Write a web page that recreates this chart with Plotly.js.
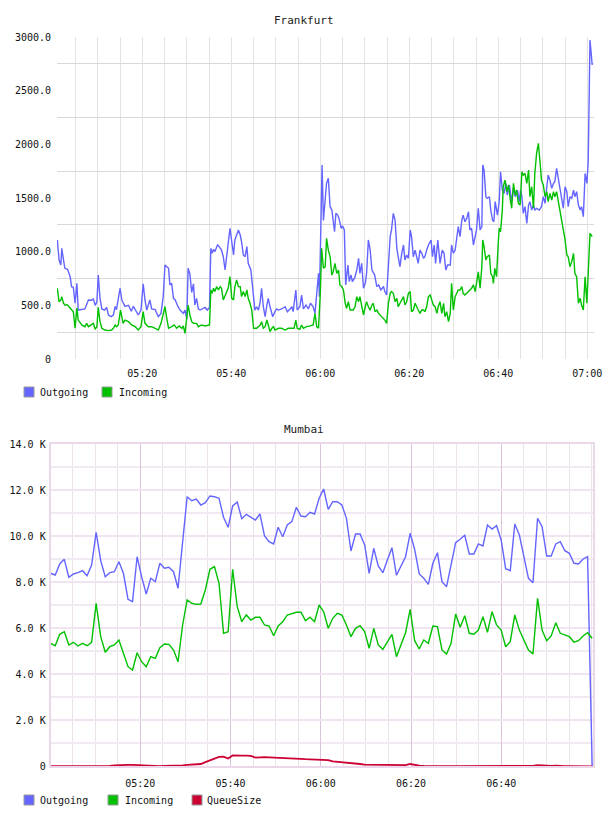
<!DOCTYPE html>
<html>
<head>
<meta charset="utf-8">
<script src="https://cdn.plot.ly/plotly-3.0.1.min.js"></script>
<style>
  html, body { margin: 0; padding: 0; background: #ffffff; }
  #chart { width: 608px; height: 816px; }
</style>
</head>
<body>
<div id="chart"></div>
<script>
// ---- Frankfurt: [minutes after 05:00, value] ----
const fraOutgoing = [
  [0.9,1109],[1.3,922],[1.7,876],[1.9,1031],[2.3,922],[2.6,845],[3.2,836],[3.8,767],[4.1,674],[4.5,668],
  [4.9,519],[5.3,705],[5.6,456],[6.4,460],[7.1,466],[7.9,550],[8.6,547],[9.0,560],[9.4,500],[9.8,530],
  [10.1,782],[10.5,565],[10.9,466],[11.5,456],[12.0,480],[12.4,410],[13.0,394],[13.5,410],[13.9,490],[14.2,460],
  [15.0,659],[15.4,550],[16.1,490],[16.9,500],[17.5,445],[18.0,490],[18.5,456],[19.1,410],[19.7,456],[20.2,700],
  [20.6,550],[21.0,456],[21.7,550],[22.1,466],[22.9,460],[23.6,394],[24.2,425],[24.7,580],[25.1,876],[25.5,860],
  [25.9,845],[26.2,690],[26.6,705],[27.0,565],[27.4,550],[28.0,490],[28.5,456],[29.2,425],[29.6,456],[30.0,370],
  [30.3,845],[30.7,790],[31.1,620],[31.5,700],[31.8,503],[32.2,565],[32.6,466],[33.0,456],[33.6,466],[34.1,480],
  [34.6,456],[35.1,480],[35.4,1031],[35.7,985],[36.0,1022],[36.3,1000],[36.9,1062],[37.3,1047],[37.8,1015],[38.2,953],
  [38.6,829],[39.0,985],[39.3,1047],[39.7,1218],[40.1,1093],[40.5,969],[40.8,1109],[41.2,1155],[41.6,1202],[42.0,1155],
  [42.3,1093],[42.7,969],[43.1,953],[43.5,1047],[43.8,891],[44.4,829],[45.0,550],[45.3,456],[45.7,487],[46.1,456],
  [46.5,534],[46.8,659],[47.2,487],[47.6,394],[48.0,503],[48.3,565],[48.7,487],[49.3,394],[49.8,441],[50.2,466],
  [50.6,456],[51.3,466],[52.1,487],[52.6,441],[53.2,466],[53.6,487],[53.9,441],[54.5,643],[54.8,456],[55.4,487],
  [55.8,596],[56.2,466],[56.8,503],[57.3,466],[57.8,519],[58.4,487],[58.8,425],[59.2,643],[59.6,798],[59.8,580],
  [60.4,1807],[60.7,1290],[61.1,1512],[61.4,1637],[61.8,1684],[62.2,1419],[62.6,1388],[62.9,1279],[63.2,1186],[63.5,1357],
  [63.9,1341],[64.2,1310],[64.7,1217],[65.0,1240],[65.4,1202],[65.7,690],[66.2,876],[66.5,722],[66.9,784],[67.2,722],
  [67.7,753],[68.2,829],[68.6,938],[68.9,798],[69.3,891],[69.7,659],[70.1,706],[70.4,798],[70.8,1109],[71.2,1015],
  [71.6,829],[72.2,784],[72.7,675],[73.1,690],[73.6,644],[74.2,675],[74.5,628],[74.9,596],[75.3,922],[75.7,1140],
  [76.0,1202],[76.4,1357],[76.8,1295],[77.2,1031],[77.5,953],[77.9,860],[78.3,985],[78.7,1062],[79.0,922],[79.4,969],
  [79.8,938],[80.2,1202],[80.5,1140],[80.9,953],[81.3,1015],[81.7,938],[82.0,891],[82.4,1015],[82.8,985],[83.2,938],
  [83.5,953],[83.9,1015],[84.3,1062],[84.9,1109],[85.2,953],[85.6,1062],[85.9,891],[86.4,1109],[86.9,891],[87.4,1015],
  [87.8,985],[88.2,829],[88.6,876],[89.2,876],[89.5,1062],[89.9,985],[90.3,1015],[90.7,1140],[91.0,1233],[91.4,1140],
  [91.8,1295],[92.1,1341],[92.5,1279],[92.9,1310],[93.3,1372],[93.6,1202],[94.0,1217],[94.4,1062],[94.8,1140],[95.1,1202],
  [95.5,1404],[95.9,1202],[96.3,1233],[96.5,1807],[96.8,1760],[97.2,1512],[97.5,1497],[98.0,1512],[98.3,1388],[98.7,1295],
  [99.0,1279],[99.3,1466],[99.8,1341],[100.2,1466],[100.5,1745],[100.9,1574],[101.3,1543],[101.7,1636],[102.0,1528],[102.5,1621],
  [103.0,1466],[103.4,1590],[103.8,1512],[104.3,1574],[104.7,1466],[105.0,1574],[105.3,1512],[105.6,1357],[106.0,1419],[106.4,1264],
  [106.8,1435],[107.1,1466],[107.5,1388],[107.9,1435],[108.2,1388],[108.6,1404],[109.2,1388],[109.7,1419],[110.1,1512],[110.5,1450],
  [110.9,1605],[111.2,1714],[111.6,1667],[112.0,1590],[112.4,1636],[112.7,1652],[113.1,1776],[113.5,1683],[113.9,1574],[114.2,1512],
  [114.6,1404],[115.0,1605],[115.4,1559],[115.7,1419],[116.1,1512],[116.5,1497],[116.9,1574],[117.2,1512],[117.6,1559],[118.0,1435],
  [118.4,1388],[118.7,1419],[119.1,1326],[119.5,1729],[119.9,1636],[120.2,1838],[120.6,2972],[121.1,2739]
];

const fraIncoming = [
  [0.9,659],[1.3,534],[1.7,550],[1.9,581],[2.3,519],[2.6,503],[3.2,503],[3.8,472],[4.1,456],[4.5,441],
  [4.9,286],[5.3,475],[5.6,363],[6.4,317],[7.1,301],[7.5,332],[7.9,301],[8.6,317],[9.0,332],[9.4,277],
  [9.8,301],[10.1,482],[10.5,348],[10.9,286],[11.6,270],[12.4,264],[13.1,270],[13.5,286],[13.9,317],[14.2,301],
  [14.6,317],[15.1,456],[15.7,332],[16.1,363],[16.9,348],[17.6,317],[18.4,301],[19.1,270],[19.7,301],[20.2,441],
  [20.6,332],[21.4,301],[22.1,301],[22.9,286],[23.6,270],[24.2,332],[24.7,425],[25.1,487],[25.5,379],[25.9,286],
  [26.6,301],[27.2,317],[27.7,286],[28.3,308],[28.9,286],[29.2,308],[29.6,239],[30.3,503],[30.7,410],[31.1,348],
  [31.5,332],[32.2,332],[32.6,301],[33.3,317],[34.1,308],[34.8,317],[35.1,317],[35.4,643],[35.7,612],[36.0,659],
  [36.3,628],[36.7,674],[37.1,643],[37.5,674],[37.8,659],[38.2,550],[38.6,596],[39.0,628],[39.3,659],[39.7,767],
  [40.1,565],[40.5,550],[40.8,674],[41.2,736],[41.6,674],[42.0,674],[42.3,581],[42.7,628],[43.1,581],[43.5,643],
  [43.8,565],[44.2,519],[44.6,456],[45.0,286],[45.7,286],[46.5,317],[46.8,348],[47.2,286],[47.6,301],[48.0,363],
  [48.3,317],[48.7,255],[49.1,286],[49.5,301],[49.8,270],[50.6,286],[51.3,286],[52.1,270],[52.8,286],[53.6,286],
  [54.1,286],[54.5,363],[54.8,286],[55.4,277],[55.8,317],[56.2,286],[56.9,301],[57.7,308],[58.4,317],[58.8,425],
  [59.2,301],[59.6,286],[60.0,612],[60.3,1031],[60.7,845],[61.1,860],[61.4,1124],[61.8,1015],[62.2,953],[62.6,782],
  [62.9,813],[63.3,891],[63.7,798],[64.1,829],[64.4,690],[64.8,675],[65.2,644],[65.6,519],[65.9,472],[66.3,534],
  [66.7,456],[67.4,456],[67.8,487],[68.2,581],[68.6,534],[68.9,581],[69.3,503],[69.7,410],[70.1,487],[70.4,534],
  [70.8,487],[71.2,456],[71.6,503],[71.9,519],[72.3,441],[72.7,456],[73.1,425],[73.4,410],[73.8,394],[74.2,379],
  [74.5,363],[74.9,332],[75.3,519],[75.7,612],[76.0,628],[76.4,612],[76.8,534],[77.2,565],[77.5,487],[77.9,519],
  [78.3,550],[78.7,581],[79.0,503],[79.4,534],[79.8,612],[80.2,628],[80.5,441],[80.9,456],[81.3,519],[81.7,472],
  [82.0,456],[82.4,425],[82.8,456],[83.2,456],[83.5,441],[83.9,487],[84.3,581],[84.7,596],[85.0,550],[85.4,503],
  [85.8,487],[86.2,425],[86.5,487],[86.9,534],[87.3,425],[87.7,519],[88.0,394],[88.4,441],[88.8,348],[89.2,425],
  [89.5,705],[89.9,456],[90.3,581],[90.7,612],[91.0,644],[91.4,643],[91.8,674],[92.1,612],[92.5,596],[92.9,612],
  [93.3,628],[93.6,643],[94.0,659],[94.4,690],[94.8,628],[95.1,705],[95.5,813],[95.9,659],[96.3,860],[96.5,1109],
  [96.8,1047],[97.2,922],[97.5,953],[98.0,969],[98.3,798],[98.7,767],[98.9,705],[99.2,845],[99.6,767],[100.0,1093],
  [100.2,1218],[100.5,1186],[100.9,1388],[101.1,1605],[101.5,1667],[101.9,1559],[102.3,1621],[102.6,1512],[103.0,1404],[103.4,1636],
  [103.8,1528],[104.1,1574],[104.5,1450],[104.9,1435],[105.3,1745],[105.6,1714],[106.0,1729],[106.4,1636],[106.8,1760],[107.1,1512],
  [107.5,1605],[107.9,1404],[108.2,1729],[108.6,1916],[109.0,2010],[109.4,1822],[109.7,1667],[110.1,1621],[110.5,1512],[110.9,1559],
  [111.2,1466],[111.6,1543],[112.0,1481],[112.4,1559],[112.7,1512],[113.1,1559],[113.5,1466],[113.9,1357],[114.2,1264],[114.6,1202],
  [115.0,1109],[115.4,969],[115.7,953],[116.1,860],[116.5,907],[116.9,984],[117.2,798],[117.6,767],[118.0,519],[118.4,565],
  [118.7,503],[119.1,457],[119.5,767],[119.9,519],[120.2,860],[120.6,1171],[121.1,1140]
];

// ---- Mumbai: one sample every 60.5 s from 05:00:08 ----
const mumStartSec = 8;
const mumStepSec = 60.5;
const mumOutgoing = [
  8392,8318,8796,9000,8218,8361,8418,8505,8287,8753,
  10174,8940,8244,8418,8461,8896,8392,7261,7157,9113,
  8244,7492,8174,8027,8826,8609,8653,8461,7740,9766,
  11722,11548,11622,11361,11461,11753,11722,11653,10827,10392,
  11318,11492,10766,10957,10827,10709,10970,10013,9766,9666,
  10392,9983,10492,10635,11261,10883,10853,11044,10970,11653,
  12057,11174,11505,11505,11361,10783,9361,10100,10100,9622,
  8392,9479,8709,8418,8970,9505,8305,8679,9113,10131,
  9435,8361,8174,7913,8826,9287,8027,7809,8753,9723,
  9870,10044,9231,9231,9666,9579,10492,10318,10461,9840,
  8592,8505,10535,10057,9113,8174,7983,10783,10418,9144,
  9144,9666,9766,9374,9261,8826,8796,9013,9113,0
];
const mumIncoming = [
  5348,5244,5739,5853,5274,5392,5231,5348,5244,5392,
  7087,5635,4957,5200,5274,5491,4913,4331,4187,4939,
  4548,4331,4765,4696,5157,5318,5300,5057,4548,6144,
  7231,7087,7043,7057,7666,8566,8679,7957,5783,5853,
  8566,6940,6287,6579,6361,6479,6479,6144,6100,5679,
  6100,6287,6579,6622,6696,6696,6331,6479,6287,7013,
  6722,6000,6435,6652,6579,6144,5635,6000,6113,5853,
  5131,6000,5274,5087,5418,5739,4765,5274,5809,6826,
  5461,5100,5491,5348,6100,6071,5057,4883,5348,6622,
  6044,6548,5783,5739,5922,6505,5826,6722,6144,5922,
  5200,5418,6579,5922,5461,5057,4883,7300,5922,5461,
  5665,6244,5783,5709,5635,5392,5461,5665,5809,5565
];
const mumQueueSize = [
  5,5,5,5,5,5,5,5,5,5,
  5,5,5,20,40,57,60,60,60,50,
  30,10,10,10,10,20,20,20,30,40,
  60,80,90,100,180,260,360,410,420,340,
  470,478,465,460,450,380,400,400,390,380,
  360,340,320,330,330,320,310,305,300,290,
  290,270,215,200,180,170,150,130,100,70,
  70,60,50,50,60,70,60,40,50,100,
  50,30,15,10,10,10,10,10,10,10,
  10,10,10,10,10,10,30,30,15,10,
  20,30,20,10,0,10,20,45,30,15,
  20,30,10,5,5,5,5,5,5,0
];

// ---- axis labels ----
const fraYTicks = [0, 500, 1000, 1500, 2000, 2500, 3000];
const fraYLabels = ['0', '500.0', '1000.0', '1500.0', '2000.0', '2500.0', '3000.0'];
const fraYGrid = [250, 750, 1250, 1750, 2250, 2750];
const mumYTicks = [0, 2000, 4000, 6000, 8000, 10000, 12000, 14000];
const mumYLabels = ['0', '2.0 K', '4.0 K', '6.0 K', '8.0 K', '10.0 K', '12.0 K', '14.0 K'];
const fraXLabels = ['05:20', '05:40', '06:00', '06:20', '06:40', '07:00'];
const mumXLabels = ['05:20', '05:40', '06:00', '06:20', '06:40'];

const seriesNames = ['Outgoing', 'Incoming', 'QueueSize'];
const seriesColors = ['#6464ff', '#00c000', '#cc0033'];

// ---- helpers ----
const DAY = '2024-01-01 ';
const p2 = n => String(n).padStart(2, '0');
function clockSec(totalSec) {
  const s = Math.round(totalSec);
  const h = 5 + Math.floor(s / 3600), m = Math.floor((s % 3600) / 60), sec = s % 60;
  return DAY + p2(h) + ':' + p2(m) + ':' + p2(sec);
}
const clockMin = min => clockSec(min * 60);
const hm = label => DAY + label + ':00';

const W = 608, H = 816;
const fx = x => x / W;
const fy = y => 1 - y / H;

const mumTimes = mumOutgoing.map((_, i) => clockSec(mumStartSec + i * mumStepSec));

const FONT = 'DejaVu Sans Mono, Liberation Mono, monospace';

const traces = [
  { x: fraOutgoing.map(d => clockMin(d[0])), y: fraOutgoing.map(d => d[1]), xaxis: 'x', yaxis: 'y',
    type: 'scatter', mode: 'lines', line: { color: seriesColors[0], width: 1.4 }, name: seriesNames[0] },
  { x: fraIncoming.map(d => clockMin(d[0])), y: fraIncoming.map(d => d[1]), xaxis: 'x', yaxis: 'y',
    type: 'scatter', mode: 'lines', line: { color: seriesColors[1], width: 1.4 }, name: seriesNames[1] },
  { x: mumTimes, y: mumOutgoing, xaxis: 'x2', yaxis: 'y2',
    type: 'scatter', mode: 'lines', line: { color: seriesColors[0], width: 1.4 }, name: seriesNames[0] },
  { x: mumTimes, y: mumIncoming, xaxis: 'x2', yaxis: 'y2',
    type: 'scatter', mode: 'lines', line: { color: seriesColors[1], width: 1.4 }, name: seriesNames[1] },
  { x: mumTimes, y: mumQueueSize, xaxis: 'x2', yaxis: 'y2',
    type: 'scatter', mode: 'lines', line: { color: seriesColors[2], width: 1.8 }, name: seriesNames[2] }
];

const tickFont = { family: FONT, size: 10, color: '#111111' };

const layout = {
  width: W, height: H,
  margin: { l: 0, r: 0, t: 0, b: 0 },
  paper_bgcolor: '#ffffff', plot_bgcolor: '#ffffff',
  showlegend: false,
  font: { family: FONT, size: 10, color: '#111111' },
  xaxis: {
    type: 'date', domain: [fx(57), fx(594)], anchor: 'y',
    range: [clockMin(0.83), clockMin(121.5)],
    tickmode: 'array', tickvals: fraXLabels.map(hm), ticktext: fraXLabels,
    showgrid: true, gridcolor: '#e3e3e3', gridwidth: 1,
    minor: { dtick: 300000, tick0: DAY + '05:00:00', showgrid: true, gridcolor: '#e3e3e3', gridwidth: 1 },
    showline: false, zeroline: false, ticks: '', ticklabelstandoff: 7, tickfont: tickFont, fixedrange: true
  },
  yaxis: {
    domain: [fy(359), fy(37)], anchor: 'x', range: [0, 3000],
    tickmode: 'array', tickvals: fraYTicks, ticktext: fraYLabels,
    showgrid: false, zeroline: false, showline: false, ticks: '',
    minor: { tickmode: 'array', tickvals: fraYGrid, showgrid: true, gridcolor: '#d9d9d9', gridwidth: 1 },
    ticklabelstandoff: 5, tickfont: tickFont, fixedrange: true
  },
  xaxis2: {
    type: 'date', domain: [fx(50.7), fx(593.3)], anchor: 'y2',
    range: [clockMin(0.144), clockMin(120.39)],
    tickmode: 'array', tickvals: mumXLabels.map(hm), ticktext: mumXLabels,
    showgrid: true, gridcolor: '#dcc2dc', gridwidth: 1,
    minor: { dtick: 300000, tick0: DAY + '05:00:00', showgrid: true, gridcolor: '#ebe2eb', gridwidth: 1 },
    showline: true, mirror: true, linecolor: '#ead8ea', linewidth: 2,
    zeroline: false, ticks: '', ticklabelstandoff: 7, tickfont: tickFont, fixedrange: true
  },
  yaxis2: {
    domain: [fy(766.3), fy(444.3)], anchor: 'x2', range: [0, 14000],
    tickmode: 'array', tickvals: mumYTicks, ticktext: mumYLabels,
    showgrid: true, gridcolor: '#f0e4f0', gridwidth: 2,
    minor: { dtick: 1000, tick0: 0, showgrid: true, gridcolor: '#f2eaf2', gridwidth: 2 },
    showline: true, mirror: true, linecolor: '#ead8ea', linewidth: 2,
    zeroline: false, ticks: '', ticklabelstandoff: 1, tickfont: tickFont, fixedrange: true
  },
  annotations: [],
  shapes: []
};

// chart titles
[['Frankfurt', 20], ['Mumbai', 429]].forEach(([txt, y]) => {
  layout.annotations.push({
    xref: 'paper', yref: 'paper', x: fx(304), y: fy(y), xanchor: 'center', yanchor: 'middle',
    text: txt, showarrow: false, font: { family: FONT, size: 11, color: '#222222' }
  });
});

// legend rows: swatch + label
function legendRow(yMid, items) {
  items.forEach(([idx, boxLeft, textLeft]) => {
    layout.shapes.push({
      type: 'rect', xref: 'paper', yref: 'paper',
      x0: fx(boxLeft), x1: fx(boxLeft + 10), y0: fy(yMid + 5), y1: fy(yMid - 5),
      fillcolor: seriesColors[idx], line: { color: '#999999', width: 1 }
    });
    layout.annotations.push({
      xref: 'paper', yref: 'paper', x: fx(textLeft), y: fy(yMid), xanchor: 'left', yanchor: 'middle',
      text: seriesNames[idx], showarrow: false, xshift: -1,
      font: { family: FONT, size: 10, color: '#111111' }
    });
  });
}
legendRow(392, [[0, 24, 39], [1, 102, 118]]);
legendRow(800, [[0, 24, 39], [1, 108, 124], [2, 192, 206]]);

Plotly.newPlot('chart', traces, layout, { displayModeBar: false, staticPlot: true });
</script>
</body>
</html>
